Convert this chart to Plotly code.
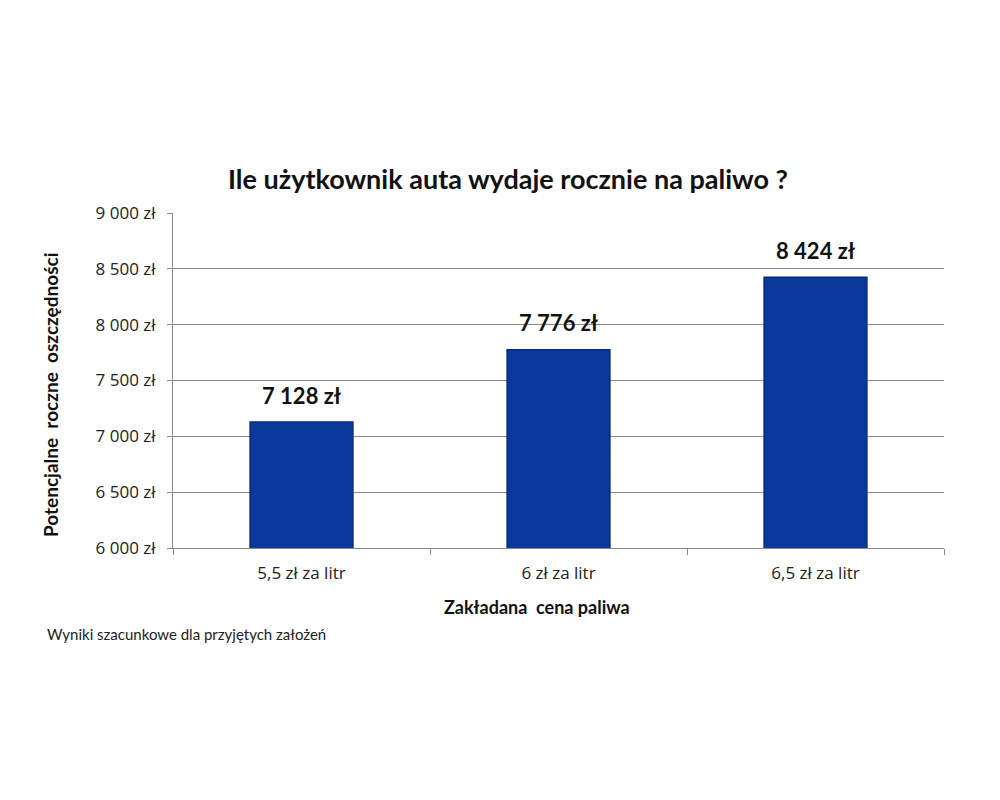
import plotly.graph_objects as go

categories = ["5,5 zł za litr", "6 zł za litr", "6,5 zł za litr"]
values = [7128, 7776, 8424]
value_labels = ["7 128 zł", "7 776 zł", "8 424 zł"]
tick_vals = [6000, 6500, 7000, 7500, 8000, 8500, 9000]
tick_text = ["6 000 zł", "6 500 zł", "7 000 zł", "7 500 zł", "8 000 zł", "8 500 zł", "9 000 zł"]

FONT = "Lato"
TICKFONT = "Open Sans"

fig = go.Figure()
fig.add_trace(go.Bar(
    x=categories,
    y=values,
    width=0.4,
    marker=dict(color="#0A389B", line=dict(color="#08297A", width=1.5)),
    hoverinfo="skip",
))

# data labels above bars
for c, v, t in zip(categories, values, value_labels):
    fig.add_annotation(x=c, y=v, text="<b>" + t + "</b>", showarrow=False,
                       yshift=27, font=dict(size=22, color="#111111", family=FONT))

fig.update_layout(
    width=1000, height=800,
    paper_bgcolor="white", plot_bgcolor="white",
    margin=dict(l=165, r=64, t=205, b=260),
    showlegend=False,
    font=dict(family=FONT, color="#222222"),
    title=dict(text="<b>Ile użytkownik auta wydaje rocznie na paliwo ?</b>",
               x=0.5, xanchor="center", y=1 - 172 / 800, yanchor="middle",
               font=dict(size=27, color="#111111", family=FONT)),
    bargap=0.6,
)

fig.update_xaxes(
    showline=True, linecolor="#8a8a8a", linewidth=1,
    ticks="outside", tickson="boundaries", ticklen=6, tickcolor="#8a8a8a",
    tickfont=dict(size=17, color="#222222", family=TICKFONT),
    ticklabelstandoff=10,
    showgrid=False,
)
fig.update_yaxes(
    range=[6000, 9000],
    tickvals=tick_vals, ticktext=tick_text,
    showline=True, linecolor="#8a8a8a", linewidth=1,
    ticks="outside", ticklen=5, tickcolor="#8a8a8a",
    tickfont=dict(size=17, color="#222222", family=TICKFONT),
    showgrid=True, gridcolor="#8a8a8a", gridwidth=1,
    ticklabelstandoff=8,
)

fig.add_annotation(xref="paper", yref="paper", x=(42 - 165) / 771, y=(540 - 387) / 335,
                   text="<b>Potencjalne  roczne  oszczędności</b>", showarrow=False,
                   textangle=-90, xanchor="center", yanchor="middle",
                   font=dict(size=19, color="#111111", family=FONT))
fig.add_annotation(xref="paper", yref="paper", x=(529 - 165) / 771, y=-59 / 335,
                   text="<b>Zakładana  cena paliwa</b>", showarrow=False,
                   yanchor="middle", font=dict(size=18, color="#111111", family=FONT))
fig.add_annotation(xref="paper", yref="paper", x=(37 - 165) / 771, y=-86 / 335,
                   xanchor="left", yanchor="middle",
                   text="Wyniki szacunkowe dla przyjętych założeń", showarrow=False,
                   font=dict(size=15, color="#222222", family=FONT))

fig.write_html("out.html")
